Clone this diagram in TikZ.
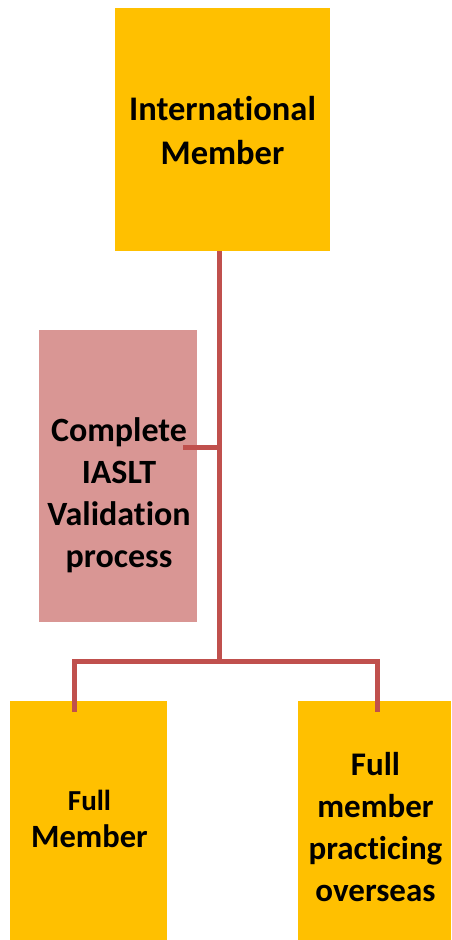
\documentclass[tikz,border=0pt]{standalone}
\usepackage{fontspec}
\setmainfont{Carlito}[Ligatures=NoCommon]
\definecolor{memberorange}{HTML}{FFC000}
\definecolor{stepred}{HTML}{D99694}
\definecolor{linkred}{HTML}{C0504D}
\begin{document}
\begin{tikzpicture}[x=1pt,y=-1pt,
  member/.style={fill=memberorange, inner sep=0pt},
  memtext/.style={align=center, font=\bfseries\fontsize{34}{42}\selectfont},
  link/.style={draw=linkred, line width=5pt}]
  \useasboundingbox (0,0) rectangle (451,940);
  % boxes
  \node[member, minimum width=215pt, minimum height=243pt] (intl) at (222.5,129.5) {};
  \node[memtext, font=\bfseries\fontsize{34.5}{44}\selectfont] (intltext) at ([yshift=-1pt]intl.center) {International\\Member};
  \node[fill=stepred, inner sep=0pt, minimum width=158pt, minimum height=292pt] (valid) at (118,476) {};
  \node[memtext] (validtext) at ([xshift=1pt,yshift=-19pt]valid.center) {Complete\\IASLT\\Validation\\process};
  \node[member, minimum width=157pt, minimum height=239pt] (full) at (88.5,820.5) {};
  \node[memtext, font=\bfseries\fontsize{32.5}{37}\selectfont] (fulltext) at ([xshift=1pt,yshift=2pt]full.center) {{\fontsize{29}{37}\selectfont Full}\\Member};
  \node[member, minimum width=153pt, minimum height=239pt] (over) at (374.5,820.5) {};
  \node[memtext, font=\bfseries\fontsize{33}{42}\selectfont] (overtext) at ([xshift=1pt,yshift=-7pt]over.center) {Full\\member\\practicing\\overseas};
  % connectors
  \coordinate (fork) at (219,661);
  \coordinate (stub) at (183,447);
  \coordinate (fullend) at (74,712);
  \coordinate (overend) at (377,712);
  \draw[link] (intl.south -| fork) -- (fork);
  \draw[link] (stub) -- (stub -| fork);
  \draw[link] (fork) -| (fullend);
  \draw[link] (fork) -| (overend);
\end{tikzpicture}
\end{document}
